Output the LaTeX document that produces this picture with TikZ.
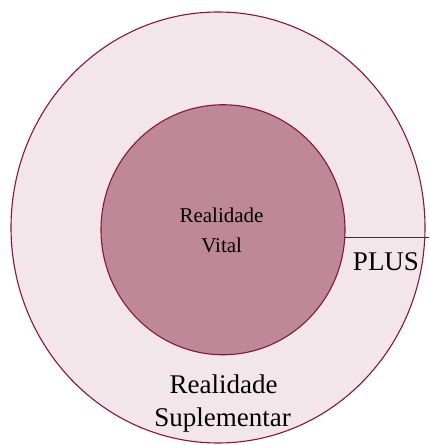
\documentclass[tikz,border=0pt]{standalone}
\usepackage{fontspec}
\setmainfont{Liberation Serif}
\usetikzlibrary{shapes.geometric}
\definecolor{rim}{RGB}{135,22,62}
\definecolor{outerfill}{RGB}{242,230,235}
\definecolor{innerfill}{RGB}{190,136,152}
\tikzset{
  ring/.style={ellipse, draw=rim, line width=1.1pt, inner sep=0pt, outer sep=0pt},
  biglabel/.style={anchor=base, font=\fontsize{27}{32}\selectfont, inner sep=0pt},
  smalllabel/.style={anchor=base, font=\fontsize{21}{25}\selectfont, inner sep=0pt},
}
\begin{document}
\begin{tikzpicture}[x=1pt,y=1pt]
\useasboundingbox (0,0) rectangle (429,445);
\node[ring, fill=outerfill, minimum width=414pt, minimum height=431pt] (outer) at (218,217.5) {};
\node[ring, fill=innerfill, minimum width=244pt, minimum height=250pt] (inner) at (223,215.25) {};
\coordinate (lineend) at (429,208);
\draw[line width=0.8pt, black!80] (inner.east |- lineend) -- (lineend);
\node[smalllabel] (rv1) at (221.5,222) {Realidade};
\node[smalllabel] (rv2) at (221.7,192) {Vital};
\node[biglabel] (plus) at (386,174) {PLUS};
\node[biglabel] (rs1) at (223.5,52) {Realidade};
\node[biglabel] (rs2) at (222.5,19) {Suplementar};
\end{tikzpicture}
\end{document}
